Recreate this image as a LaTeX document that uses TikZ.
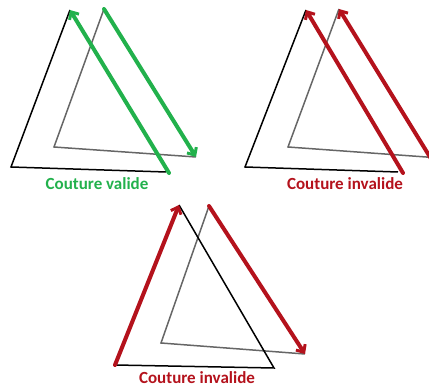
\documentclass[tikz,border=0pt]{standalone}
\usepackage{fontspec}
\setmainfont{Carlito}
\usetikzlibrary{arrows.meta}
\definecolor{cgreen}{RGB}{34,177,76}
\definecolor{cred}{RGB}{180,18,28}
\begin{document}
\begin{tikzpicture}[x=1pt,y=-1pt,
  blk/.style={draw=black,line width=1.5pt,line join=miter},
  gry/.style={draw=black!60,line width=1.5pt},
  seam/.style={line width=4pt,line cap=round,-{Straight Barb[length=6pt,width=11pt,line width=3pt]}},
  lbl/.style={font=\fontsize{17}{17}\selectfont\bfseries,inner sep=0pt}]
\useasboundingbox (0,0) rectangle (429,387);
\clip (0,0) rectangle (429,387);
% ---- panel 1
\coordinate (a1) at (70,10); \coordinate (b1) at (11,167); \coordinate (c1) at (166,172);
\coordinate (d1) at (104,9); \coordinate (e1) at (54,147); \coordinate (f1) at (196,157);
\coordinate (g1) at (169,173);
\draw[gry] (d1) -- (e1) -- (f1);
\draw[blk] (a1) -- (b1) -- (c1);
\draw[seam,draw=cgreen] (g1) -- (a1);
\draw[seam,draw=cgreen] (d1) -- (f1);
\node[lbl,text=cgreen] (t1) at (97,184) {Couture valide};
% ---- panel 2
\coordinate (a2) at (306,10); \coordinate (b2) at (245,167); \coordinate (c2) at (398,172);
\coordinate (d2) at (339,9); \coordinate (e2) at (288,147); \coordinate (f2) at (440,158);
\coordinate (g2) at (403,173); \coordinate (h2) at (438,170);
\draw[gry] (d2) -- (e2) -- (f2);
\draw[blk] (a2) -- (b2) -- (c2);
\draw[seam,draw=cred] (g2) -- (a2);
\draw[seam,draw=cred] (h2) -- (d2);
\node[lbl,text=cred] (t2) at (345,184) {Couture invalide};
% ---- panel 3
\coordinate (a3) at (179,205); \coordinate (b3) at (115,365); \coordinate (c3) at (274,368);
\coordinate (d3) at (209,206); \coordinate (e3) at (161,343); \coordinate (f3) at (305,354);
\draw[gry] (d3) -- (e3) -- (f3);
\draw[blk] (a3) -- (c3) -- (b3);
\draw[seam,draw=cred] (b3) -- (a3);
\draw[seam,draw=cred] (d3) -- (f3);
\node[lbl,text=cred] (t3) at (197,378) {Couture invalide};
\end{tikzpicture}
\end{document}
